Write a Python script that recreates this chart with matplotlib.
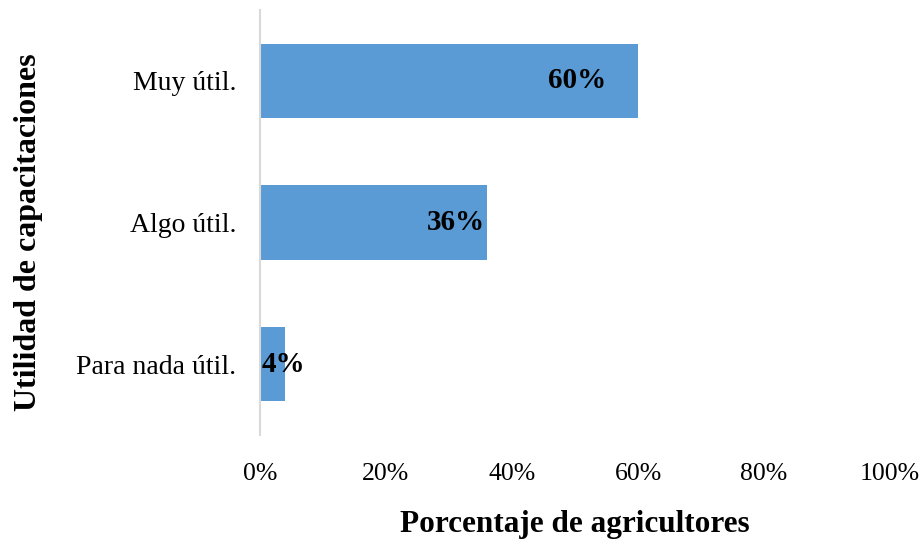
import matplotlib
matplotlib.use('Agg')
import matplotlib.pyplot as plt
from matplotlib.ticker import FuncFormatter

plt.rcParams['font.family'] = ['Liberation Serif', 'DejaVu Serif']

#datos
categorias = ['Para nada útil.', 'Algo útil.', 'Muy útil.']
porcentajes = [4, 36, 60]
etiquetas = ['4%', '36%', '60%']
ticks_x = [0, 20, 40, 60, 80, 100]

fig = plt.figure(figsize=(9.19, 5.41), dpi=100)
ax = fig.add_axes([0.2829, 0.196, 0.6856, 0.7855])

barras = ax.barh(categorias, porcentajes, height=0.525, color='#5B9BD5')

#etiquetas dentro de la barra, la pequeña empieza en el eje
for b, txt, v in zip(barras, etiquetas, porcentajes):
    y = b.get_y() + b.get_height() / 2
    if v < 10:
        ax.text(0.3, y, txt, ha='left', va='center', fontsize=21, fontweight='bold')
    elif v > 50:
        ax.text(v - 5, y, txt, ha='right', va='center', fontsize=21, fontweight='bold')
    else:
        ax.text(v - 0.3, y, txt, ha='right', va='center', fontsize=21, fontweight='bold')

ax.set_xlim(0, 100)
ax.set_ylim(-0.5, 2.5)
ax.set_xticks(ticks_x)
ax.xaxis.set_major_formatter(FuncFormatter(lambda x, p: f'{x:.0f}%'))
ax.tick_params(axis='x', length=0, labelsize=18.5, pad=20)
ax.tick_params(axis='y', length=0, labelsize=20, pad=17)

for s in ['top', 'right', 'bottom']:
    ax.spines[s].set_visible(False)
ax.spines['left'].set_color('#D9D9D9')
ax.spines['left'].set_linewidth(1.5)

ax.set_xlabel('Porcentaje de agricultores', fontsize=22.5, fontweight='bold', labelpad=18)
fig.text(0.031, 0.570, 'Utilidad de capacitaciones', rotation=90, ha='center', va='center',
         fontsize=23, fontweight='bold')

plt.savefig('out.png', dpi=100)
